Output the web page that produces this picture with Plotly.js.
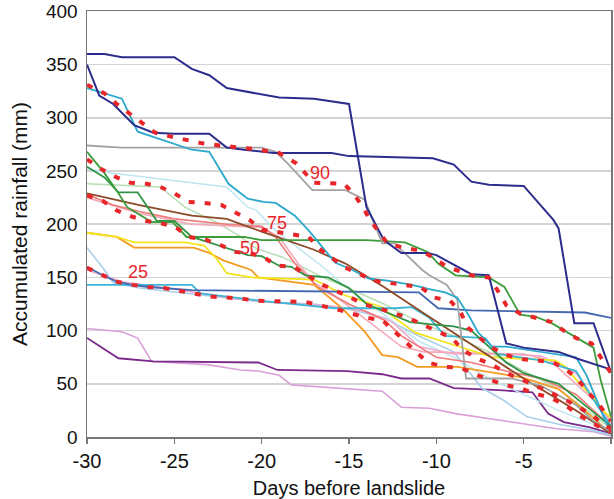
<!DOCTYPE html>
<html>
<head>
<meta charset="utf-8">
<script src="https://cdn.plot.ly/plotly-3.0.1.min.js"></script>
<style>html,body{margin:0;padding:0;background:#fff}#chart{width:614px;height:499px}</style>
</head>
<body>
<div id="chart"></div>
<script>
// ---- data: days before landslide (x) and accumulated rainfall in mm (y) ----
const navyA_x = [-30,-29,-28,-25,-24,-23,-22,-21,-19,-17,-15,-14,-13,-12,-10.5,-10,-8,-7,-6,-5,-3,-2,-0.3,0];
const navyA_y = [360,360,357,357,346,340,328,325,319,318,313,216,185,173,173,171,153,152,88,84,80,74,65,61];
const navyB_x = [-30,-29.3,-28.5,-27.3,-26.2,-25,-23,-22,-21,-19.3,-16,-15,-10.2,-9,-8,-7,-5,-3.3,-3,-2.1,-1,0];
const navyB_y = [350,321,313,293,286,285,285,272,270,267,267,264,262,256,240,237,236,204,196,107,107,61];
const cyan_x = [-30,-28,-27.1,-24,-23,-21.9,-20.8,-19.9,-19.2,-18.1,-17.3,-16.5,-15.8,-14.8,-13.9,-12.8,-11.4,-10.4,-9.5,-8.8,-8.1,-7.6,-6.8,-6,-2.8,-2,-1.4,-0.3,0];
const cyan_y = [328,318,287,270,268,238,224,221,220,208,194,178,164,157,149,147,143,139,136,131,113,98,85,85,77,75,58,14,5];
const gray_x = [-30,-28,-20,-19.2,-18.5,-17.1,-15.2,-14.1,-13.1,-12.4,-10.8,-10.4,-9.4,-8.8,-8.5,-8.3,-5.7,-4,-2,-1,0];
const gray_y = [274,272,272,268,257,232,232,223,182,182,157,152,143,129,84,55,55,48,30,15,5];
const green1_x = [-30,-29,-28.2,-27.7,-26.8,-26.3,-25.1,-24.3,-21,-20,-14,-11.8,-10.5,-9.9,-8.9,-7,-6.1,-5.2,-4.3,-3.4,-1,-0.6,0];
const green1_y = [268,248,229,216,207,202,202,188,188,185,185,183,174,163,152,150,141,115,113,107,84,54,19];
const green2_x = [-30,-29,-28.2,-27.1,-26.4,-26,-25,-24.4,-24,-21.7,-20.8,-20,-19,-18.3,-17.5,-16.2,-15,-14,-13,-11.5,-10.4,-9,-8,-7,-6,-5,-3,-1.5,0];
const green2_y = [254,244,230,230,213,203,203,194,188,176,171,170,161,160,152,150,140,125,118,108,106,104,100,85,70,60,50,30,10];
const paleCyan_x = [-30,-28.5,-22,-20.8,-20.3,-19.2,-16.5,-15.2,-13,-11,-9,-7,-5,-3,0];
const paleCyan_y = [252,248,235,216,213,194,160,141,115,90,75,55,40,25,5];
const paleGreen_x = [-30,-25.8,-24.4,-22.5,-21.2,-20.3,-18.8,-16.5,-15.2,-13,-11,-9,-7,-5,-3,0];
const paleGreen_y = [238,235,216,201,188,177,169,150,141,125,108,95,80,62,45,8];
const brown_x = [-30,-27,-24,-22,-20,-17,-15.2,-13,-10.7,-5,-2,0];
const brown_y = [229,218,208,205,193,176,163,141,116,55,25,3];
const salmon_x = [-30,-28.5,-27,-25,-22,-20,-19.2,-18.1,-16.8,-15,-13,-12,-11,-10,-8,-6,-4,-2,0];
const salmon_y = [228,218,212,205,200,198,188,163,141,125,110,95,85,75,70,62,55,40,10];
const pink_x = [-30,-27,-24,-20,-19,-18,-17,-16,-14,-12,-10.7,-5,-3.5,-2,-1,0];
const pink_y = [225,210,200,197,188,165,145,135,110,85,80,78,72,50,35,15];
const yellow_x = [-30,-28.3,-27.3,-24.4,-23.3,-22.6,-22,-20.6,-17,-15.2,-13.1,-12.4,-11.2,-10.4,-8.9,-6.8,-3.2,-2.6,-1.9,-1,-0.4,0];
const yellow_y = [192,188,183,183,180,168,154,150,148,133,122,112,98,94,86,75,72,66,52,37,24,18];
const orange_x = [-30,-28.3,-27.3,-23.9,-23,-22.2,-20.6,-20.2,-17,-15.4,-14.1,-13.1,-12.2,-11.1,-8.8,-5.1,-3,-1.5,0];
const orange_y = [192,188,178,178,173,166,157,150,143,121,99,77,75,66,66,56,45,25,3];
const lightBlue_x = [-30,-29,-28.5,-27,-20,-17,-15,-13,-11,-9,-7.4,-6.2,-4.8,-3,-1,0];
const lightBlue_y = [178,157,145,140,127,125,120,112,95,80,46,35,19,12,6,2];
const steelBlue_x = [-30,-29.1,-28.3,-27.4,-26.5,-24,-11,-9.9,-8,-1.5,0];
const steelBlue_y = [160,152,146,143,141,138,136,121,119,117,112];
const cyan2_x = [-30,-24,-23.5,-20,-15.8,-12.4,-11.4,-10.4,-9.5,-7.2,-6.5,-4,-2,-1,0];
const cyan2_y = [143,143,135,128,121,121,122,112,95,93,78,72,62,35,10];
const lightPink_x = [-30,-28,-25,-22,-19,-16,-14,-12.5,-11,-9,-6,-4,-2,-1,0];
const lightPink_y = [157,146,139,131,126,123,118,108,85,78,78,76,60,35,12];
const purple_x = [-30,-28.2,-26.2,-20.2,-19.1,-15.1,-13.1,-12,-10.4,-9,-6.4,-4.5,-3.6,-2.7,-1.2,0];
const purple_y = [93,74,71,70,63,62,59,55,55,46,44,42,22,14,9,3];
const orchid_x = [-30,-28,-27.1,-26.3,-23.1,-21.2,-20.2,-19,-18.3,-13.1,-12,-10.4,-8.9,-3.2,-1,0];
const orchid_y = [102,99,93,71,68,63,62,58,49,43,28,27,22,8,5,1];

// percentile curves
const p90_x = [-30,-29,-28.3,-27.2,-26.1,-25.1,-23.4,-22.4,-20.6,-19,-18,-17.4,-17,-15.3,-14.8,-14.2,-13.8,-13.3,-12.8,-11.9,-10.9,-10.2,-9.4,-8,-7,-6.5,-6,-5.2,-4.2,-3.4,-2.7,-2,-1.1,-0.6,0];
const p90_y = [331,323,313,300,286,282,276,274,271,267,257,246,239,238,230,216,204,193,182,178,175,169,160,152,150,138,124,116,112,108,100,93,88,75,60];
const p75_x = [-30,-29.2,-28.3,-27.5,-26.6,-25.8,-25,-24.2,-23.3,-22.3,-21.5,-20.7,-20,-18.3,-17.3,-16.7,-16,-15.3,-14.5,-13.6,-12.8,-11.9,-10.9,-10.1,-9.2,-8.6,-8.2,-7.5,-6.8,-6,-5,-4.2,-3.3,-2.6,-1.9,-1.3,-0.7,-0.2,0];
const p75_y = [261,252,244,239,238,235,229,221,220,218,211,204,195,191,188,177,168,160,154,147,145,143,141,131,128,117,103,93,84,77,73,72,70,64,54,42,31,19,15];
const p50_x = [-30,-29.1,-28.3,-27.4,-26.6,-25.8,-24.9,-24.2,-23.3,-22.3,-21.5,-20.5,-19.8,-19.1,-18.2,-17.4,-16.5,-14.9,-14.2,-13.3,-12.5,-11.6,-10.7,-9.9,-9.1,-8.5,-7.7,-6.8,-6,-5.1,-4.4,-3.5,-2.6,-1.9,-1.1,-0.4,0];
const p50_y = [227,222,213,207,203,201,197,188,186,180,174,172,168,161,160,152,143,131,125,121,117,112,105,99,93,82,74,68,60,54,49,42,35,28,21,11,8];
const p25_x = [-30,-29.1,-28.3,-27.4,-26.5,-25.6,-24.6,-23.8,-22.9,-22,-21.1,-20.3,-17.5,-15.7,-14.8,-14,-13.1,-12.4,-11.7,-11.1,-10.5,-9.5,-8.6,-7.8,-6.9,-6.1,-5.2,-4.4,-3.5,-2.6,-1.9,-1.2,-0.6,0];
const p25_y = [159,152,146,143,141,140,137,135,132,131,130,128,127,120,116,112,110,99,89,79,70,66,65,59,54,49,46,41,37,30,21,14,9,5];

const percentileLabels = ["90","75","50","25"];
const labelPos_x = [-16.66,-19.12,-20.67,-27.08];
const labelPos_y = [248,201,178,155];

const xTickVals = [-30,-25,-20,-15,-10,-5,0];
const xTickText = ["-30","-25","-20","-15","-10","-5","0"];
const yTickVals = [0,50,100,150,200,250,300,350,400];

// ---- styling ----
const FONT = '"Liberation Sans", Arial, sans-serif';
const series = [
  [orchid_x, orchid_y, '#d9a0d8', 1.6],
  [purple_x, purple_y, '#7b2a8c', 1.8],
  [lightBlue_x, lightBlue_y, '#a9d0ea', 1.6],
  [paleCyan_x, paleCyan_y, '#bfe6ef', 1.5],
  [paleGreen_x, paleGreen_y, '#b7deb4', 1.5],
  [lightPink_x, lightPink_y, '#eeaad0', 1.6],
  [pink_x, pink_y, '#f4a8b8', 1.6],
  [salmon_x, salmon_y, '#f07a78', 1.6],
  [orange_x, orange_y, '#f39b22', 1.8],
  [yellow_x, yellow_y, '#f2e41e', 1.8],
  [cyan2_x, cyan2_y, '#3cb6d6', 1.8],
  [steelBlue_x, steelBlue_y, '#4468b0', 1.8],
  [brown_x, brown_y, '#8c4a26', 1.8],
  [green2_x, green2_y, '#2f9446', 1.8],
  [green1_x, green1_y, '#3c9c3a', 1.8],
  [gray_x, gray_y, '#a3a3a3', 1.8],
  [cyan_x, cyan_y, '#2aa8cc', 1.8],
  [navyB_x, navyB_y, '#2c2c8c', 2],
  [navyA_x, navyA_y, '#2c2c8c', 2]
];
const traces = series.map(s => ({
  x: s[0], y: s[1], type: 'scatter', mode: 'lines',
  line: {color: s[2], width: s[3]}, hoverinfo: 'skip', cliponaxis: false
}));
[[p90_x,p90_y],[p75_x,p75_y],[p50_x,p50_y],[p25_x,p25_y]].forEach(p => {
  traces.push({x: p[0], y: p[1], type: 'scatter', mode: 'lines',
    line: {color: '#e8262a', width: 4, dash: '6px,10px'}, hoverinfo: 'skip'});
});

const annotations = percentileLabels.map((t, i) => ({
  x: labelPos_x[i], y: labelPos_y[i], xref: 'x', yref: 'y', text: t,
  showarrow: false, font: {family: FONT, size: 18, color: '#e8262a'}
}));

const layout = {
  width: 614, height: 499,
  margin: {l: 87, r: 3, t: 11, b: 62},
  paper_bgcolor: '#fff', plot_bgcolor: '#fff',
  showlegend: false,
  font: {family: FONT, size: 19, color: '#111'},
  xaxis: {
    range: [-30, 0], tickvals: xTickVals, ticktext: xTickText, ticks: 'outside', ticklen: 5, tickwidth: 1.5,
    tickcolor: '#777', showgrid: false, zeroline: false,
    showline: true, linecolor: '#777', linewidth: 1.5, mirror: true,
    tickfont: {family: FONT, size: 20, color: '#111'},
    title: {text: 'Days before landslide', font: {family: FONT, size: 20, color: '#111'}, standoff: 10}
  },
  yaxis: {
    range: [0, 400.4], tickvals: yTickVals, ticks: '', showgrid: true,
    gridcolor: '#d4d4d4', gridwidth: 1.5, zeroline: false,
    showline: true, linecolor: '#777', linewidth: 1.5, mirror: true,
    ticklabelstandoff: 4,
    tickfont: {family: FONT, size: 19, color: '#111'},
    title: {text: 'Accumulated rainfall (mm)', font: {family: FONT, size: 21, color: '#111'}, standoff: 12}
  },
  annotations: annotations
};
Plotly.newPlot('chart', traces, layout, {staticPlot: true, displayModeBar: false});
</script>
</body>
</html>
